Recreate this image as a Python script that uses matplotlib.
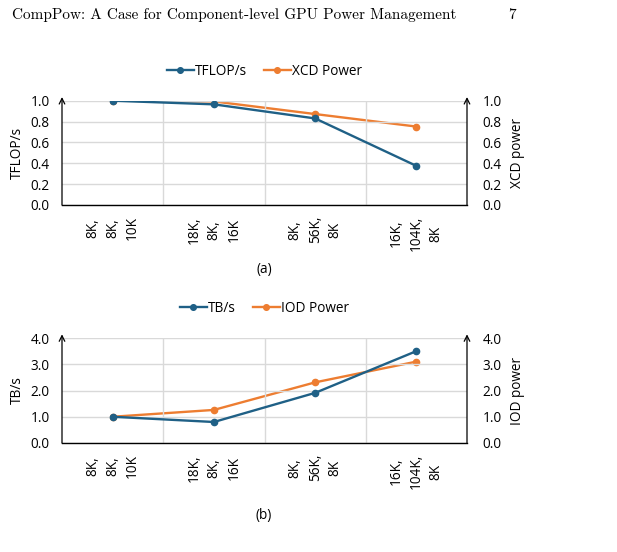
import numpy as np
import matplotlib
matplotlib.use('Agg')
import matplotlib.pyplot as plt

# Data
categories = ['8K,\n8K,\n10K', '18K,\n8K,\n16K', '8K,\n56K,\n8K', '16K,\n104K,\n8K']
tflops = [1.0, 0.965, 0.83, 0.375]
xcd_power = [1.0, 0.993, 0.872, 0.752]
tbs = [1.0, 0.80, 1.91, 3.50]
iod_power = [1.0, 1.26, 2.31, 3.10]

BLUE = '#1F6086'
ORANGE = '#ED7D31'
GRID = '#D9D9D9'
FONT = 'Open Sans'
FS = 9.8

plt.rcParams['font.family'] = [FONT, 'DejaVu Sans']

fig = plt.figure(figsize=(6.17, 5.52), dpi=100)

# page header
fig.text(12 / 617, 1 - 15 / 552, 'CompPow: A Case for Component-level GPU Power Management',
         family='cmr10', fontsize=11, ha='left', va='center')
fig.text(512 / 617, 1 - 15 / 552, '7', family='cmr10', fontsize=11, ha='center', va='center')


def panel(rect, left_vals, right_vals, ymax, yticks, fmt, names, ylabels, caption, cap_y):
    ax = fig.add_axes(rect)
    x = np.arange(len(categories))
    ax.set_xlim(-0.5, len(categories) - 0.5)
    ax.set_ylim(0, ymax)
    ax.set_yticks(yticks)
    ax.set_yticklabels([fmt.format(v) for v in yticks], fontsize=FS)
    ax.set_xticks(x)
    ax.set_xticklabels(categories, rotation=90, fontsize=FS, multialignment='center',
                       va='top', ha='center', linespacing=1.45)
    ax.set_xticks(np.arange(0.5, len(categories) - 0.5, 1.0), minor=True)
    ax.tick_params(axis='both', which='both', length=0)
    ax.tick_params(axis='x', pad=8)
    ax.tick_params(axis='y', pad=9)
    ax.grid(axis='y', which='major', color=GRID, lw=1)
    ax.grid(axis='x', which='minor', color=GRID, lw=1)
    ax.set_axisbelow(True)
    for s in ['top', 'left', 'right']:
        ax.spines[s].set_visible(False)
    ax.spines['bottom'].set_color('black')
    ax.spines['bottom'].set_linewidth(1.0)

    l1, = ax.plot(x, left_vals, color=BLUE, lw=1.7, marker='o', ms=4.5, label=names[0], zorder=4)
    ax2 = ax.twinx()
    ax2.set_ylim(0, ymax)
    ax2.set_yticks(yticks)
    ax2.set_yticklabels([fmt.format(v) for v in yticks], fontsize=FS)
    ax2.tick_params(axis='y', length=0, pad=11)
    for s in ['top', 'left', 'right', 'bottom']:
        ax2.spines[s].set_visible(False)
    l2, = ax2.plot(x, right_vals, color=ORANGE, lw=1.7, marker='o', ms=4.5, label=names[1], zorder=3)
    ax.set_zorder(ax2.get_zorder() + 1)
    ax.patch.set_visible(False)

    # axis arrows on both sides
    for xa in (0, 1):
        ax.annotate('', xy=(xa, 1.035), xytext=(xa, 0), xycoords='axes fraction',
                    arrowprops=dict(arrowstyle='->', color='black', lw=0.9,
                                    shrinkA=0, shrinkB=0), annotation_clip=False)

    ax.set_ylabel(ylabels[0], fontsize=FS, labelpad=4)
    ax2.set_ylabel(ylabels[1], fontsize=FS, labelpad=6)

    ax.legend([l1, l2], names, loc='center', bbox_to_anchor=(0.5, 1.28), ncol=2,
              frameon=False, fontsize=FS, handlelength=2.0, handletextpad=0.1,
              columnspacing=1.2, markerscale=0.9)
    fig.text(264 / 617, 1 - cap_y / 552, caption, fontsize=FS, ha='center', va='center')
    return ax


panel([62 / 617, 347 / 552, 405 / 617, 104.3 / 552], tflops, xcd_power, 1.0,
      [0.0, 0.2, 0.4, 0.6, 0.8, 1.0], '{:.1f}', ['TFLOP/s', 'XCD Power'],
      ['TFLOP/s', 'XCD power'], '(a)', 270)
panel([62 / 617, 109 / 552, 405 / 617, 105 / 552], tbs, iod_power, 4.0,
      [0.0, 1.0, 2.0, 3.0, 4.0], '{:.1f}', ['TB/s', 'IOD Power'],
      ['TB/s', 'IOD power'], '(b)', 516)

fig.savefig('out.png', dpi=100)
